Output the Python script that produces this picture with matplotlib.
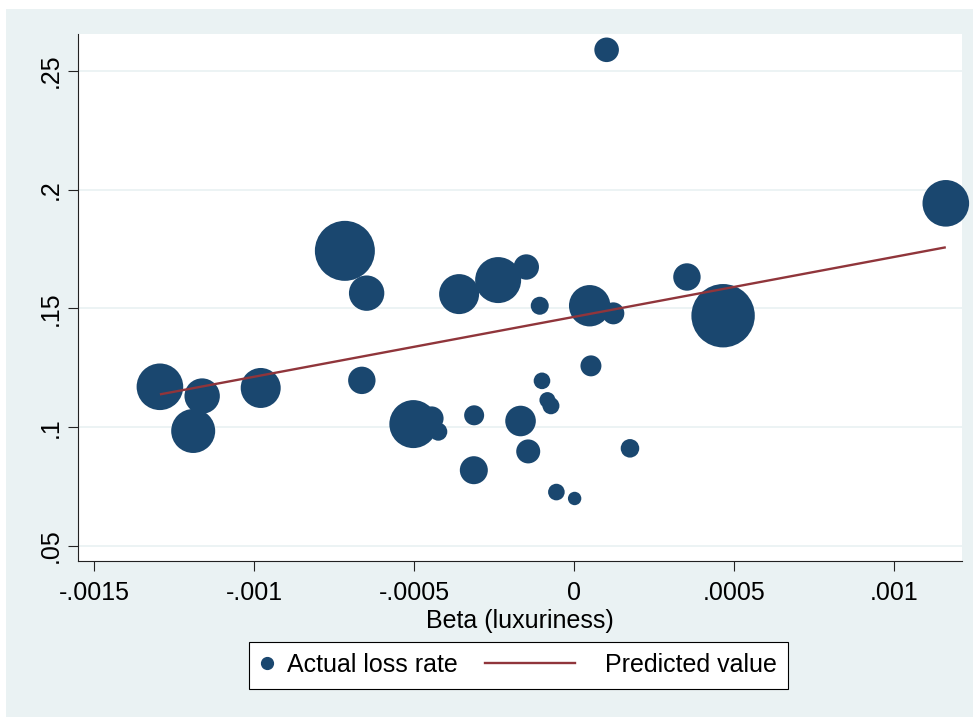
import numpy as np
import matplotlib
matplotlib.use("Agg")
import matplotlib.pyplot as plt
from matplotlib.lines import Line2D
from matplotlib.patches import Rectangle
from matplotlib.legend_handler import HandlerLine2D

# --------------------------------------------------------------
# DATA
# --------------------------------------------------------------
beta = [0.000101, 0.001161, -0.000717, -0.000649, -0.000360, -0.000238,
        -0.000150, -0.000108, 0.000048, 0.000122, 0.000352, 0.000465,
        -0.001295, -0.001163, -0.001191, -0.000980, -0.000664, -0.000503,
        -0.000446, -0.000425, -0.000313, -0.000101, 0.000052, -0.000084,
        -0.000073, -0.000168, -0.000144, -0.000314, -0.000056, 0.000001,
        0.000174]
loss_rate = [0.2588, 0.1942, 0.1742, 0.1564, 0.1560, 0.1619,
             0.1674, 0.1511, 0.1511, 0.1479, 0.1632, 0.1469,
             0.1170, 0.1131, 0.0984, 0.1165, 0.1197, 0.1013,
             0.1037, 0.0981, 0.1050, 0.1195, 0.1258, 0.1114,
             0.1090, 0.1026, 0.0898, 0.0819, 0.0727, 0.0700,
             0.0911]
# analytic weights (marker area is proportional to them)
weight = [151, 543, 900, 313, 400, 529,
          161, 81, 428, 121, 188, 1005,
          543, 313, 484, 400, 188, 576,
          144, 81, 100, 69, 110, 64,
          72, 234, 144, 196, 69, 45,
          86]

# fitted values at the ends of the beta range
fit_x = [-0.001295, 0.001161]
fit_y = [0.1138, 0.1757]

x_ticks = [-0.0015, -0.001, -0.0005, 0, 0.0005, 0.001]
x_tick_labels = ["-.0015", "-.001", "-.0005", "0", ".0005", ".001"]
y_ticks = [0.05, 0.10, 0.15, 0.20, 0.25]
y_tick_labels = [".05", ".1", ".15", ".2", ".25"]

# --------------------------------------------------------------
# STYLE
# --------------------------------------------------------------
NAVY = "#1a476f"
MAROON = "#90353b"
BG = "#eaf2f3"
FONT = 18

plt.rcParams["font.family"] = ["Liberation Sans", "DejaVu Sans"]
plt.rcParams["font.size"] = FONT

W, H = 973, 717
fig = plt.figure(figsize=(W / 100, H / 100), dpi=100, facecolor="white")

# graph region background (thin white margin on the left and top)
fig.patches.append(Rectangle((6 / W, 0), 1 - 6 / W, 1 - 9 / H,
                             transform=fig.transFigure, facecolor=BG,
                             edgecolor="none", zorder=-10))

ax = fig.add_axes([78 / W, 156 / H, (962 - 78) / W, (561 - 34) / H])
ax.set_facecolor("white")

# --------------------------------------------------------------
# PLOT
# --------------------------------------------------------------
sizes = np.array(weight) * (1.44 ** 2)
ax.scatter(beta, loss_rate, s=sizes, color=NAVY, edgecolors="none",
           zorder=3, clip_on=False, label="Actual loss rate")
ax.plot(fit_x, fit_y, color=MAROON, lw=1.7, zorder=4,
        solid_capstyle="butt", label="Predicted value")

ax.set_xlim(-0.001551, 0.0012116)
ax.set_ylim(0.04369, 0.26545)

ax.set_xticks(x_ticks)
ax.set_xticklabels(x_tick_labels)
ax.set_yticks(y_ticks)
ax.set_yticklabels(y_tick_labels, rotation=90, va="center")

ax.yaxis.grid(True, color=BG, lw=1.3, zorder=0)
ax.set_axisbelow(True)

for side in ["top", "right"]:
    ax.spines[side].set_visible(False)
for side in ["left", "bottom"]:
    ax.spines[side].set_color("#222222")
    ax.spines[side].set_linewidth(0.8)

ax.tick_params(axis="both", direction="out", length=7.2, width=0.8,
               color="#222222", labelsize=FONT)
ax.tick_params(axis="x", pad=7)
ax.tick_params(axis="y", pad=4)

ax.set_xlabel("Beta (luxuriness)", fontsize=FONT, labelpad=3)


# --------------------------------------------------------------
# LEGEND
# --------------------------------------------------------------
class LongLineHandler(HandlerLine2D):
    # line key reaching back into the column gap
    def create_artists(self, legend, orig_handle, xdescent, ydescent,
                       width, height, fontsize, trans):
        yc = height / 2 - ydescent
        line = Line2D([-xdescent - 67, -xdescent - 2.2], [yc, yc])
        self.update_prop(line, orig_handle, legend)
        line.set_transform(trans)
        return [line]


key_dot = Line2D([], [], ls="none", marker="o", markersize=8.5,
                 color=NAVY, label="Actual loss rate")
key_line = Line2D([], [], color=MAROON, lw=1.7, label="Predicted value")

leg = fig.legend(handles=[key_dot, key_line], ncol=2,
                 loc="center left", bbox_to_anchor=(249 / W, 1 - 665 / H),
                 bbox_transform=fig.transFigure, borderaxespad=0,
                 frameon=True, fancybox=False, framealpha=1,
                 edgecolor="black", facecolor="white",
                 handlelength=0.54, handletextpad=0.53, columnspacing=4.8,
                 borderpad=0.46, fontsize=FONT,
                 handler_map={key_line: LongLineHandler()})
leg.get_frame().set_linewidth(0.8)

fig.savefig("out.png", dpi=100, facecolor="white")
